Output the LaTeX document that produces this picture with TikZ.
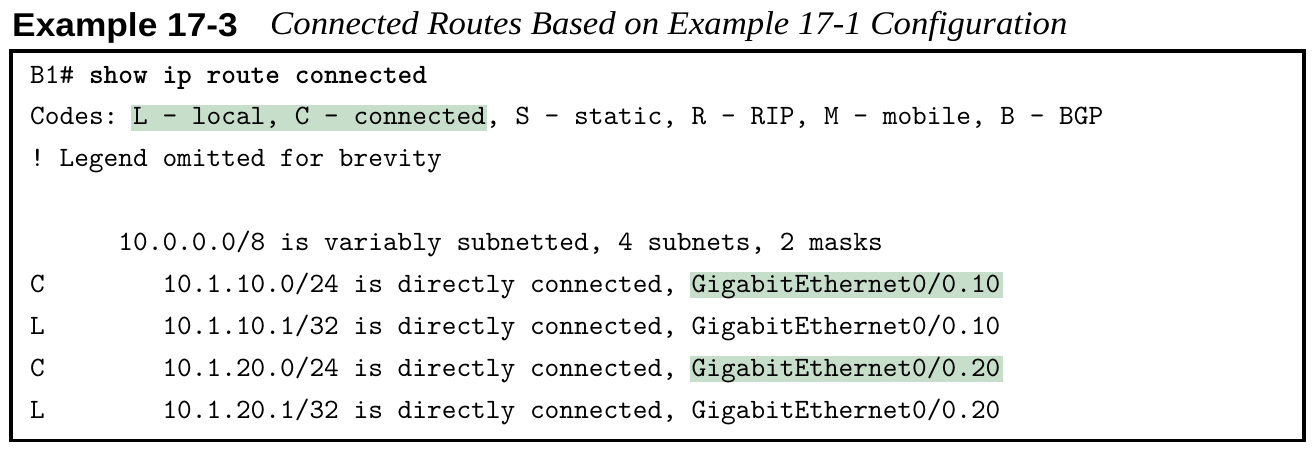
\documentclass[tikz,border=0pt]{standalone}
\usepackage{fontspec}
\setmainfont{Liberation Serif}
\setsansfont{Liberation Sans}
\setmonofont{lmmono10-regular.otf}[BoldFont=lmmonolt10-bold.otf]
\definecolor{hl}{RGB}{198,222,202}
\begin{document}
\begin{tikzpicture}[x=1pt,y=-1pt,
  code/.style={anchor=base west, inner sep=0pt, font=\fontsize{28}{28}\selectfont\ttfamily},
  hlbox/.style={fill=hl, draw=none},
  frame/.style={draw=black, line width=3.5pt}]
\useasboundingbox (0,0) rectangle (1316,448);
\fill[white] (0,0) rectangle (1316,448);
\node[anchor=base west, inner sep=0pt, font=\fontsize{33}{33}\selectfont\sffamily\bfseries] (num) at (12,36) {\scalebox{1.07}[1]{Example 17-3}};
\node[anchor=base west, inner sep=0pt, font=\fontsize{33}{33}\selectfont\itshape] (cap) at (270,34.5) {\scalebox{1.053}[1]{Connected Routes Based on Example 17-1 Configuration}};
\draw[frame] (11.2,51) rectangle (1304,440.5);
% highlights
\path[hlbox] (131,104.5) rectangle (487,130.5);
\path[hlbox] (690,272) rectangle (1003,298);
\path[hlbox] (690,355.8) rectangle (1003,381.8);
% lines
\node[code] (l1) at (30,83) {B1\# \textbf{show ip route connected}};
\node[code] (l2) at (30,124.9) {Codes: L - local, C - connected, S - static, R - RIP, M - mobile, B - BGP};
\node[code] (l3) at (30,166.8) {! Legend omitted for brevity};
\node[code] (l5) at (118.2,250.6) {10.0.0.0/8 is variably subnetted, 4 subnets, 2 masks};
\node[code] (c6) at (30,292.5) {C};
\node[code] (l6) at (162.3,292.5) {10.1.10.0/24 is directly connected, GigabitEthernet0/0.10};
\node[code] (c7) at (30,334.4) {L};
\node[code] (l7) at (162.3,334.4) {10.1.10.1/32 is directly connected, GigabitEthernet0/0.10};
\node[code] (c8) at (30,376.3) {C};
\node[code] (l8) at (162.3,376.3) {10.1.20.0/24 is directly connected, GigabitEthernet0/0.20};
\node[code] (c9) at (30,418.2) {L};
\node[code] (l9) at (162.3,418.2) {10.1.20.1/32 is directly connected, GigabitEthernet0/0.20};
\end{tikzpicture}
\end{document}
